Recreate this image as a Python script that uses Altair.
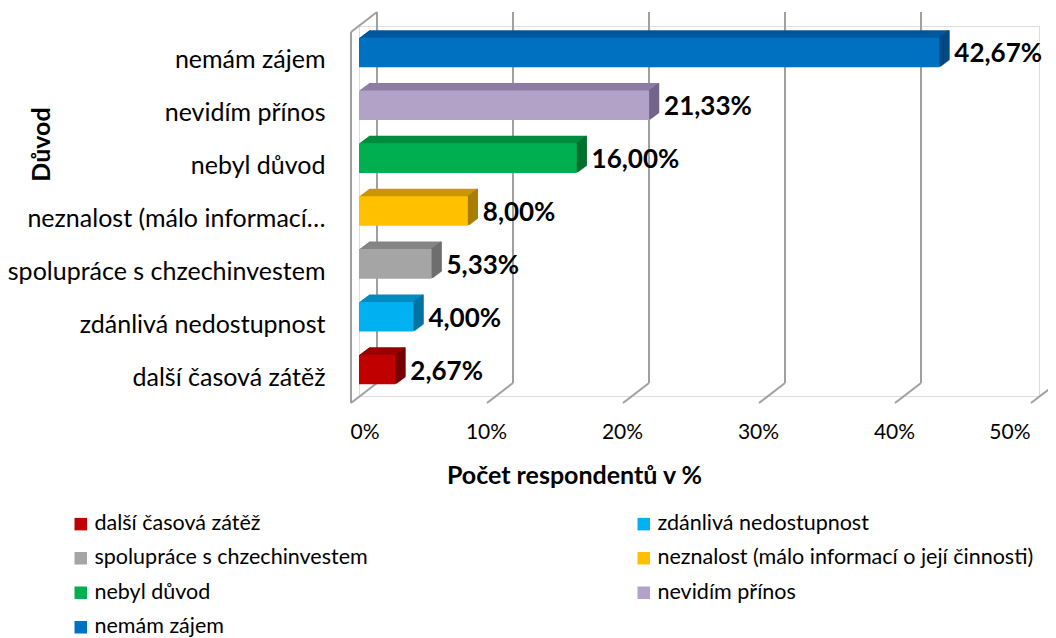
import altair as alt
import pandas as pd

categories = [
    "nemám zájem",
    "nevidím přínos",
    "nebyl důvod",
    "neznalost (málo informací o její činnosti)",
    "spolupráce s chzechinvestem",
    "zdánlivá nedostupnost",
    "další časová zátěž",
]
axis_labels = [
    "nemám zájem",
    "nevidím přínos",
    "nebyl důvod",
    "neznalost (málo informací…",
    "spolupráce s chzechinvestem",
    "zdánlivá nedostupnost",
    "další časová zátěž",
]
values = [42.67, 21.33, 16.00, 8.00, 5.33, 4.00, 2.67]
front_colors = ["#0070C0", "#B3A2C7", "#00B050", "#FFC000", "#A5A5A5", "#00B0F0", "#C00000"]
top_colors = ["#00589C", "#8D7CA3", "#008C3F", "#C99700", "#858585", "#008CC0", "#990000"]
side_colors = ["#004A85", "#74648C", "#006F31", "#A87E00", "#6E6E6E", "#0074A0", "#780000"]
# legend entries, filled column by column (2 columns)
legend_order = [
    "další časová zátěž",
    "spolupráce s chzechinvestem",
    "nebyl důvod",
    "nemám zájem",
    "zdánlivá nedostupnost",
    "neznalost (málo informací o její činnosti)",
    "nevidím přínos",
]
x_ticks = [0, 10, 20, 30, 40, 50]

df = pd.DataFrame({
    "cat": categories,
    "value": values,
    "top": top_colors,
    "side": side_colors,
})
grid_df = pd.DataFrame({"t": x_ticks})
wall_df = pd.DataFrame({"t": [0]})

FONT = "Lato"
GRID = "#A0A0A0"

label_map = dict(zip(categories, axis_labels))
label_expr = " : ".join(
    [f"datum.label == '{k}' ? '{v}'" for k, v in label_map.items()] + ["datum.label"]
)

xscale = alt.Scale(domain=[0, 50], nice=False, zero=True)
yscale = alt.Scale(domain=categories, paddingInner=0.44, paddingOuter=0.22)

x_axis = alt.Axis(
    values=x_ticks, labelExpr="datum.value + '%'", grid=False, domain=False, ticks=False,
    tickSize=0, labelPadding=25, labelOffset=-9, labelFont=FONT, labelFontSize=21,
    labelColor="#000000", labelBaseline="top",
    title="Počet respondentů v %", titleFont=FONT, titleFontSize=25, titleFontWeight="bold",
    titleColor="#000000", titleX=215, titleY=79, titleBaseline="middle", titleAlign="center",
)
y_axis = alt.Axis(
    labelExpr=label_expr, grid=False, domain=False, ticks=False, tickSize=0,
    labelPadding=34, labelOffset=8, labelFont=FONT, labelFontSize=25, labelColor="#000000",
    labelLimit=400,
    title="Důvod", titleFont=FONT, titleFontSize=25, titleFontWeight="bold", titleColor="#000000",
    titleX=-318, titleY=118, titleAngle=270, titleAlign="center", titleBaseline="middle",
)

base = alt.Chart(df)
X = alt.X("value:Q", scale=xscale, axis=x_axis)
Y = alt.Y("cat:N", scale=yscale, axis=y_axis, sort=categories)

# grid (3D walls)
back_lines = alt.Chart(grid_df).mark_rule(color=GRID, strokeWidth=2, xOffset=18).encode(
    x=alt.X("t:Q", scale=xscale), y=alt.value(-14), y2=alt.value(357)
)
floor_lines = alt.Chart(grid_df).mark_rule(color=GRID, strokeWidth=2, xOffset=18, x2Offset=-8).encode(
    x=alt.X("t:Q", scale=xscale), x2="t:Q", y=alt.value(357), y2=alt.value(377)
)
wall_front = alt.Chart(wall_df).mark_rule(color=GRID, strokeWidth=2, xOffset=-8).encode(
    x=alt.X("t:Q", scale=xscale), y=alt.value(6), y2=alt.value(377)
)
wall_top = alt.Chart(wall_df).mark_rule(color=GRID, strokeWidth=2, xOffset=18, x2Offset=-8).encode(
    x=alt.X("t:Q", scale=xscale), x2="t:Q", y=alt.value(-14), y2=alt.value(6)
)

layers = [back_lines, floor_lines, wall_front, wall_top]

DEPTH = 10
DY = 0.75
# top faces (extrusion)
for k in range(DEPTH, 0, -1):
    layers.append(
        base.mark_bar(xOffset=k, x2Offset=k, yOffset=-DY * k, y2Offset=-DY * k, strokeWidth=0).encode(
            x=X, y=Y, fill=alt.Fill("top:N", scale=None)
        )
    )
# side faces
for k in range(1, DEPTH + 1):
    layers.append(
        base.mark_bar(xOffset=k - 1, x2Offset=min(k + 1, DEPTH), yOffset=-DY * k, y2Offset=-DY * k,
                      strokeWidth=0).encode(
            x=X, x2="value:Q", y=Y, fill=alt.Fill("side:N", scale=None)
        )
    )
# front faces
front = base.mark_bar(strokeWidth=0).encode(
    x=X, y=Y,
    color=alt.Color(
        "cat:N",
        scale=alt.Scale(domain=legend_order,
                        range=[front_colors[categories.index(c)] for c in legend_order]),
        legend=alt.Legend(
            title=None, orient="none", legendX=-289, legendY=487, columns=2,
            columnPadding=265, rowPadding=11.5, symbolType="square", symbolSize=156,
            symbolStrokeWidth=0, labelFont=FONT, labelFontSize=21.5, labelColor="#000000",
            labelOffset=3, labelLimit=600, padding=0,
        ),
    ),
)
layers.append(front)

labels = base.transform_calculate(
    txt="replace(format(datum.value, '.2f'), '.', ',') + '%'"
).mark_text(align="left", baseline="middle", dx=15, dy=2, font=FONT, fontSize=26,
            fontWeight="bold", color="#000000").encode(x=X, y=Y, text="txt:N")
layers.append(labels)

chart = alt.layer(*layers).properties(
    width=680, height=370,
    autosize=alt.AutoSizeParams(type="none"),
    padding={"left": 351, "top": 18, "right": 9, "bottom": 242},
).configure_view(stroke=None).configure(background="white")

chart.save("out.html", embed_options={"renderer": "svg", "actions": False})
